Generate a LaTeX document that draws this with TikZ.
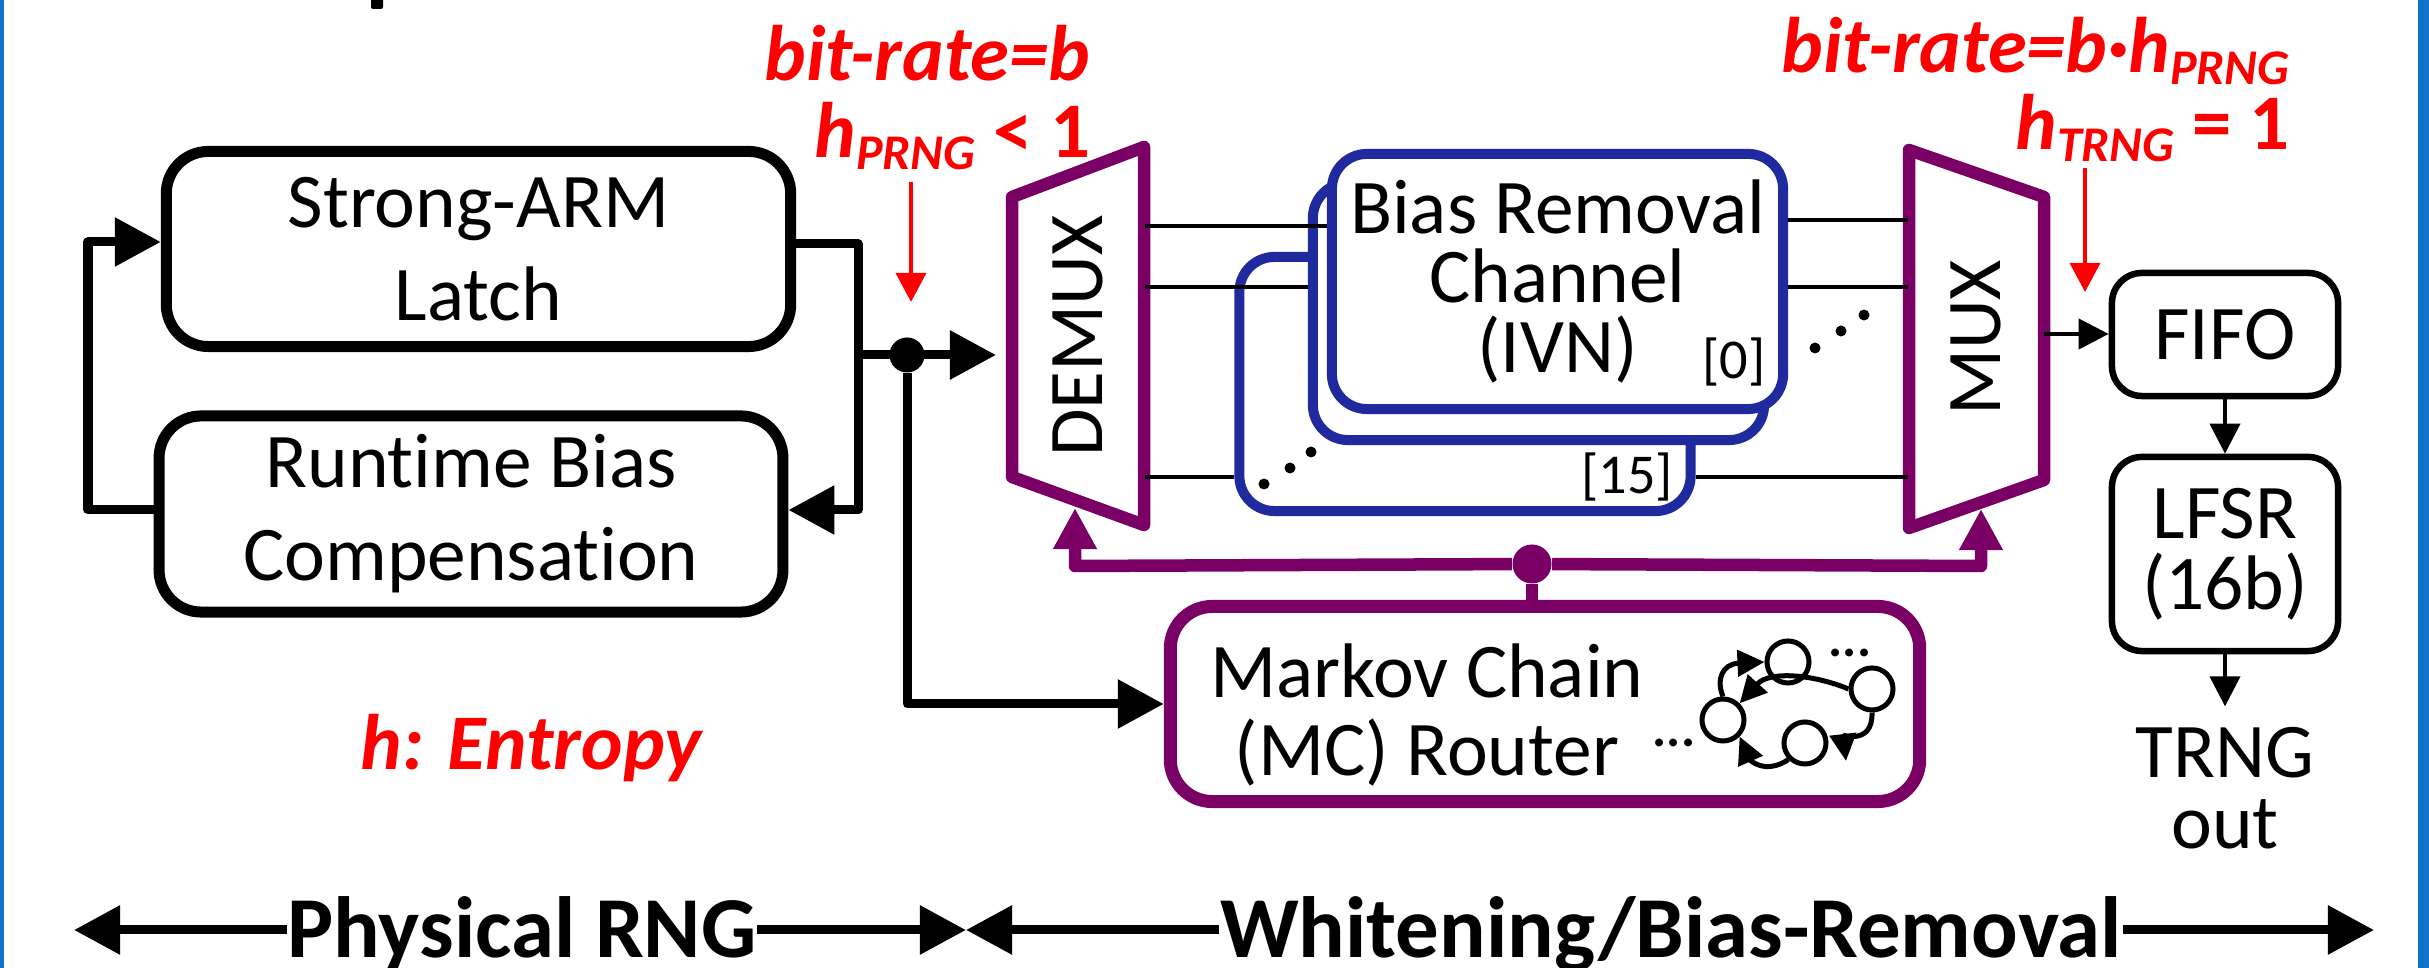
\documentclass[tikz,border=0pt]{standalone}
\usepackage{fontspec}
\setmainfont{Carlito}[Ligatures=NoCommon]
\usetikzlibrary{arrows.meta}
\definecolor{routerpurple}{RGB}{122,0,102}
\definecolor{channelblue}{RGB}{31,42,158}
\definecolor{framecolor}{RGB}{16,114,200}
\newcommand{\redsub}[1]{\raisebox{-0.12cm}{\fontsize{14.2}{14.2}\selectfont #1}}
\tikzset{%
    blockbox/.style={draw, fill=white, line width=0.11cm, rounded corners=0.42cm, inner sep=0pt, align=center,
        font=\fontsize{22}{26.4}\selectfont},
    channelbox/.style={draw=channelblue, fill=white, line width=0.1cm, rounded corners=0.35cm, inner sep=0pt,
        minimum width=4.51cm, minimum height=2.55cm, align=center, font=\fontsize{22}{19.9}\selectfont},
    routerbox/.style={draw=routerpurple, fill=white, line width=0.13cm, rounded corners=0.42cm, inner sep=0pt},
    smallbox/.style={draw, fill=white, line width=0.065cm, rounded corners=0.3cm, inner sep=0pt, align=center,
        minimum width=2.26cm, font=\fontsize{22}{20.2}\selectfont},
    muxlabel/.style={inner sep=0pt, font=\fontsize{22}{26}\selectfont},
    muxline/.style={draw=routerpurple, line width=0.125cm, line join=round},
    plaintext/.style={inner sep=0pt, align=center, font=\fontsize{22}{22.2}\selectfont},
    redtext/.style={inner sep=0pt, align=right, text=red, font=\fontsize{22.4}{21.9}\selectfont\bfseries\itshape},
    bandtext/.style={inner sep=0pt, font=\fontsize{24.7}{26}\selectfont\bfseries},
    tagtext/.style={inner sep=0pt, font=\fontsize{16}{16}\selectfont},
    jointdot/.style={circle, fill, inner sep=0pt, minimum size=0.35cm},
    stateball/.style={circle, draw, fill=white, line width=0.05cm, inner sep=0pt, minimum size=0.42cm},
    thinwire/.style={line width=0.04cm},
    wire/.style={line width=0.09cm, line join=round},
    bigarrow/.style={wire, -{Triangle[length=0.46cm,width=0.47cm]}},
    busarrow/.style={draw=routerpurple, line width=0.125cm, line join=round,
        -{Triangle[length=0.41cm,width=0.41cm]}, routerpurple},
    smallarrow/.style={thinwire, -{Triangle[length=0.3cm,width=0.3cm]}},
    redarrow/.style={draw=red, line width=0.035cm, -{Triangle[length=0.29cm,width=0.3cm]}, red},
    statearrow/.style={line width=0.05cm, -{Triangle[length=0.27cm,width=0.26cm]}},
}

\begin{document}
\begin{tikzpicture}[x=0.01cm,y=-0.01cm]
\useasboundingbox (0,0) rectangle (2429,968);
\fill[framecolor] (0,0) rectangle (4,968);
\fill[framecolor] (2418,0) rectangle (2429,968);
\fill[rounded corners=0.02cm] (371,-6) rectangle (383,9);

% physical RNG
\node[blockbox, minimum width=6.24cm, minimum height=1.95cm] (latch) at (478.5,249) {Strong-ARM\\Latch};
\node[blockbox, minimum width=6.235cm, minimum height=1.96cm] (bias) at (471,514) {Runtime Bias\\Compensation};
\coordinate (rtop) at (858,244);
\coordinate (rbot) at (858,510);
\coordinate (ltop) at (88,242);
\coordinate (lbot) at (88,510);
\draw[bigarrow] (latch.east |- rtop) -- (rtop) -- (rbot) -- (bias.east |- rbot);
\draw[bigarrow] (bias.west |- lbot) -- (lbot) -- (ltop) -- (latch.west |- ltop);

\node[jointdot] (join) at (907,355) {};
\coordinate (inEnd) at (996,355);
\draw[bigarrow] (rtop |- join) -- (inEnd);

% mux pair
\node[muxlabel, minimum width=1.32cm, minimum height=3.68cm] (demux) at (1078,336) {\rotatebox{90}{DEMUX}};
\node[muxlabel, minimum width=1.35cm, minimum height=3.67cm] (mux) at (1976,338) {\rotatebox{90}{MUX}};
\draw[muxline] (1144,147) -- (1012,197) -- (1012,477) -- (1144,525) -- cycle;
\draw[muxline] (1909,150) -- (2044,197) -- (2044,480) -- (1909,528) -- cycle;

% channels
\node[channelbox, minimum height=2.54cm] (chan15) at (1465,384) {};
\node[channelbox, minimum height=2.57cm] (chan1) at (1538.5,311.5) {};
\node[channelbox] (chan0) at (1557.5,281.5) {Bias Removal\\Channel\\(IVN)};
\node[tagtext] (tag0) at (1734,362) {[0]};
\node[tagtext] (tag15) at (1627,477) {[15]};

\coordinate (upA) at (0,226);
\coordinate (upB) at (0,220);
\coordinate (midA) at (0,287);
\coordinate (lowA) at (0,477);
\draw[thinwire] (demux.east |- upA) -- (chan0.west |- upA);
\draw[thinwire] (demux.east |- midA) -- (chan1.west |- midA);
\draw[thinwire] (demux.east |- lowA) -- (chan15.west |- lowA);
\draw[thinwire] (chan0.east |- upB) -- (mux.west |- upB);
\draw[thinwire] (chan0.east |- midA) -- (mux.west |- midA);
\draw[thinwire] (chan15.east |- lowA) -- (mux.west |- lowA);

\foreach \x/\y in {1815/348,1841/331,1864/315,1264/484,1290/468,1311/452}
    \fill (\x,\y) circle (0.055cm);

% router
\node[routerbox, minimum width=7.49cm, minimum height=1.95cm] (router) at (1545,704) {};
\node[plaintext] (routertext) at (1427,715) {Markov Chain\\(MC) Router};
\draw[bigarrow] (join) |- (router.west);

\node[jointdot, routerpurple, minimum size=0.39cm] (busdot) at (1532,564) {};
\coordinate (busL) at (1075,566);
\coordinate (busR) at (1981,566);
\coordinate (demuxIn) at (1075,508);
\coordinate (muxIn) at (1981,509);
\draw[draw=routerpurple, line width=0.12cm] (router.north -| busdot) -- (busdot);
\draw[busarrow] (busdot) -- (busL) -- (demuxIn);
\draw[busarrow] (busdot) -- (busR) -- (muxIn);

% markov states
\node[stateball] (stateA) at (1788,662) {};
\node[stateball] (stateB) at (1872,689) {};
\node[stateball] (stateC) at (1723,720) {};
\node[stateball] (stateD) at (1805,743) {};
\coordinate (tipD) at (1846,761);
\draw[statearrow] (stateC.north) .. controls (1716,680) and (1722,664) .. (stateA.west);
\draw[statearrow] (stateB.west) .. controls (1815,675) and (1770,670) .. (stateC.north east);
\draw[statearrow] (stateB.south) .. controls (1873,745) and (1843,735) .. (tipD);
\draw[statearrow] (stateD.south west) .. controls (1765,775) and (1750,760) .. (stateC.south east);
\node[tagtext, anchor=base, font=\fontsize{15}{16}\selectfont\bfseries] (dotsA) at (1850,657) {...};
\node[tagtext, anchor=base, font=\fontsize{15}{16}\selectfont\bfseries] (dotsB) at (1674,747) {...};

% output chain
\node[smallbox, minimum height=1.23cm] (fifo) at (2225,334.5) {FIFO};
\node[smallbox, minimum height=1.94cm] (lfsr) at (2225,554) {LFSR\\(16b)};
\node[plaintext, font=\fontsize{22}{20.2}\selectfont, inner ysep=0.2cm] (trng) at (2225,788) {TRNG\\out};
\coordinate (muxOut) at (2044,334);
\draw[smallarrow] (muxOut) -- (fifo.west |- muxOut);
\draw[smallarrow] (fifo) -- (lfsr);
\draw[smallarrow] (lfsr) -- (trng.north);

% annotations
\node[redtext, anchor=north east] (rateIn) at (1091,25) {bit-rate=b\\h\redsub{PRNG} \textup{< 1}};
\node[redtext, anchor=north east] (rateOut) at (2290,17) {bit-rate=b·h\redsub{PRNG}\\h\redsub{TRNG} \textup{= 1}};
\coordinate (inTail) at (911,182);
\coordinate (inTip) at (911,302);
\coordinate (outTail) at (2085,168);
\coordinate (outTip) at (2085,292);
\draw[redarrow] (inTail) -- (inTip);
\draw[redarrow] (outTail) -- (outTip);
\node[redtext, anchor=base] (entropy) at (531,770) {h: Entropy};

% bottom band
\node[bandtext, anchor=base] (physical) at (522,958) {Physical RNG};
\node[bandtext, anchor=base] (whitening) at (1671,958) {Whitening/Bias-Removal};
\coordinate (bandL) at (74,930);
\coordinate (bandM) at (966,930);
\coordinate (bandR) at (2374,930);
\draw[bigarrow] (physical.west |- bandL) -- (bandL);
\draw[bigarrow] (physical.east |- bandM) -- (bandM);
\draw[bigarrow] (whitening.west |- bandM) -- (bandM);
\draw[bigarrow] (whitening.east |- bandR) -- (bandR);
\end{tikzpicture}
\end{document}
